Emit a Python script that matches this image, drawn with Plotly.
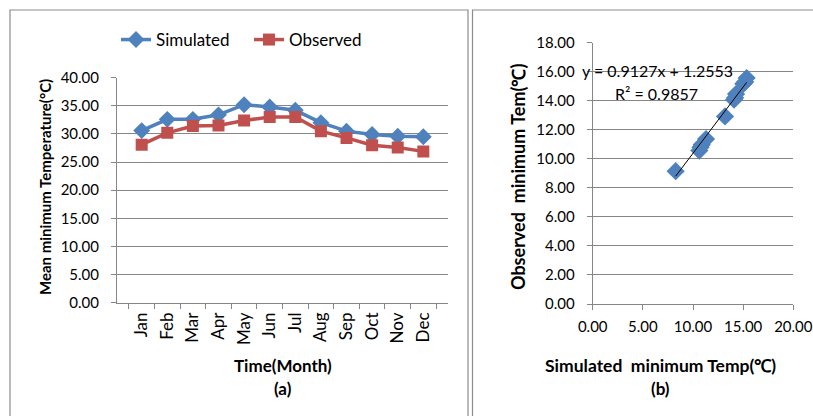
import plotly.graph_objects as go

# ---- data -------------------------------------------------------------
months = ["Jan", "Feb", "Mar", "Apr", "May", "Jun",
          "Jul", "Aug", "Sep", "Oct", "Nov", "Dec"]
simulated = [30.6, 32.6, 32.6, 33.4, 35.2, 34.8, 34.2, 32.0, 30.5, 29.9, 29.6, 29.5]
observed = [28.1, 30.2, 31.4, 31.5, 32.4, 33.0, 33.0, 30.5, 29.3, 28.0, 27.6, 26.9]

sim_min = [8.27, 10.63, 10.87, 11.30, 13.19, 14.09, 14.29, 15.02, 15.35, 10.75, 14.20, 15.20]
obs_min = [9.15, 10.57, 10.97, 11.36, 12.92, 14.07, 14.46, 15.17, 15.57, 10.80, 14.20, 15.30]

slope = 0.9127
intercept = 1.2553
r_squared = 0.9857

left_yticks = [0, 5, 10, 15, 20, 25, 30, 35, 40]
right_yticks = [0, 2, 4, 6, 8, 10, 12, 14, 16, 18]
right_xticks = [0, 5, 10, 15, 20]

# ---- layout helpers (pixel -> paper) ---------------------------------
W, H = 813, 416


def px(x):
    return x / W


def py(y):
    return 1 - y / H


BLUE = "#4F81BD"
RED = "#C0504D"
GRID = "#868686"
FONT = "Lato"

fig = go.Figure()

# (a) monthly mean minimum temperature
fig.add_trace(go.Scatter(
    x=months, y=simulated, name="Simulated", mode="lines+markers",
    line=dict(color=BLUE, width=3.5),
    marker=dict(symbol="diamond", size=13, color=BLUE),
    xaxis="x", yaxis="y",
))
fig.add_trace(go.Scatter(
    x=months, y=observed, name="Observed", mode="lines+markers",
    line=dict(color=RED, width=3.5),
    marker=dict(symbol="square", size=12, color=RED),
    xaxis="x", yaxis="y",
))

# (b) simulated vs observed scatter with linear trend
fig.add_trace(go.Scatter(
    x=sim_min, y=obs_min, mode="markers", showlegend=False,
    marker=dict(symbol="diamond", size=14, color=BLUE),
    xaxis="x2", yaxis="y2",
))
x_lo, x_hi = min(sim_min), max(sim_min)
fig.add_trace(go.Scatter(
    x=[x_lo, x_hi], y=[slope * x_lo + intercept, slope * x_hi + intercept],
    mode="lines", showlegend=False, line=dict(color="black", width=1),
    xaxis="x2", yaxis="y2",
))

tick_font = dict(family=FONT, size=15, color="#000000")
month_font = dict(family=FONT, size=17, color="#000000")

fig.update_layout(
    width=W, height=H, autosize=False,
    margin=dict(l=0, r=0, t=0, b=0),
    paper_bgcolor="white", plot_bgcolor="white",
    font=dict(family=FONT, size=15, color="#000000"),
    showlegend=True,
    legend=dict(
        orientation="h", x=px(116), y=py(22), xanchor="left", yanchor="top",
        font=dict(family=FONT, size=17, color="#000000"),
        bgcolor="rgba(0,0,0,0)", itemwidth=30,
        entrywidth=88, entrywidthmode="pixels",
    ),
    xaxis=dict(
        domain=[px(117), px(448)], anchor="y", automargin=False,
        type="category", tickangle=-90, tickfont=month_font,
        ticklabelstandoff=2,
        showline=True, linecolor=GRID, linewidth=1,
        ticks="outside", ticklen=5, tickcolor=GRID, tickson="boundaries",
        showgrid=False, zeroline=False,
    ),
    yaxis=dict(
        domain=[py(302.7), py(77.7)], anchor="x", range=[0, 40], automargin=False,
        tickvals=left_yticks, tickformat=".2f", tickfont=tick_font,
        ticklabelstandoff=9,
        showline=True, linecolor=GRID, linewidth=1,
        ticks="outside", ticklen=5, tickcolor=GRID,
        showgrid=True, gridcolor=GRID, gridwidth=1, zeroline=False,
    ),
    xaxis2=dict(
        domain=[px(592.7), px(793.3)], anchor="y2", range=[0, 20], automargin=False,
        tickvals=right_xticks, tickformat=".2f", tickfont=tick_font,
        ticklabeloverflow="allow", ticklabelstandoff=4,
        showline=True, linecolor=GRID, linewidth=1,
        ticks="outside", ticklen=5, tickcolor=GRID,
        showgrid=False, zeroline=False,
    ),
    yaxis2=dict(
        domain=[py(304), py(42.7)], anchor="x2", range=[0, 18], automargin=False,
        tickvals=right_yticks, tickformat=".2f", tickfont=tick_font,
        ticklabelstandoff=9,
        showline=True, linecolor=GRID, linewidth=1,
        ticks="outside", ticklen=5, tickcolor=GRID,
        showgrid=True, gridcolor=GRID, gridwidth=1, zeroline=False,
    ),
)

# panel frames
fig.add_shape(type="rect", xref="paper", yref="paper",
              x0=px(10), x1=px(468), y0=-0.2, y1=py(10),
              line=dict(color="#8C8C8C", width=1.2))
fig.add_shape(type="rect", xref="paper", yref="paper",
              x0=px(472.5), x1=1.2, y0=-0.2, y1=py(10),
              line=dict(color="#8C8C8C", width=1.2))

bold = dict(family=FONT, size=17, color="#000000")


def label(text, x, y, angle=0, font=bold, anchor="center"):
    fig.add_annotation(text=text, xref="paper", yref="paper",
                       x=px(x), y=py(y), xanchor=anchor, yanchor="middle",
                       showarrow=False, textangle=angle, font=font)


label("<b>Mean minimum Temperature(°C)</b>", 45, 187, angle=-90,
      font=dict(family=FONT, size=15, color="#000000"))
label("<b>Time(Month)</b>", 283, 365)
label("<b>(a)</b>", 283, 388)

label("<b>Observed  minimum Tem(℃)</b>", 518, 177, angle=-90,
      font=dict(family=FONT, size=18, color="#000000"))
label("<b>Simulated  minimum Temp(℃)</b>", 660, 365,
      font=dict(family=FONT, size=17.5, color="#000000"))
label("<b>(b)</b>", 660, 388)

# regression equation
eq_font = dict(family=FONT, size=16, color="#000000")
label(f"y = {slope}x + {intercept}", 580, 71, font=eq_font, anchor="left")
label(f"R² = {r_squared}", 613, 94, font=eq_font, anchor="left")

fig.write_html("out.html")
